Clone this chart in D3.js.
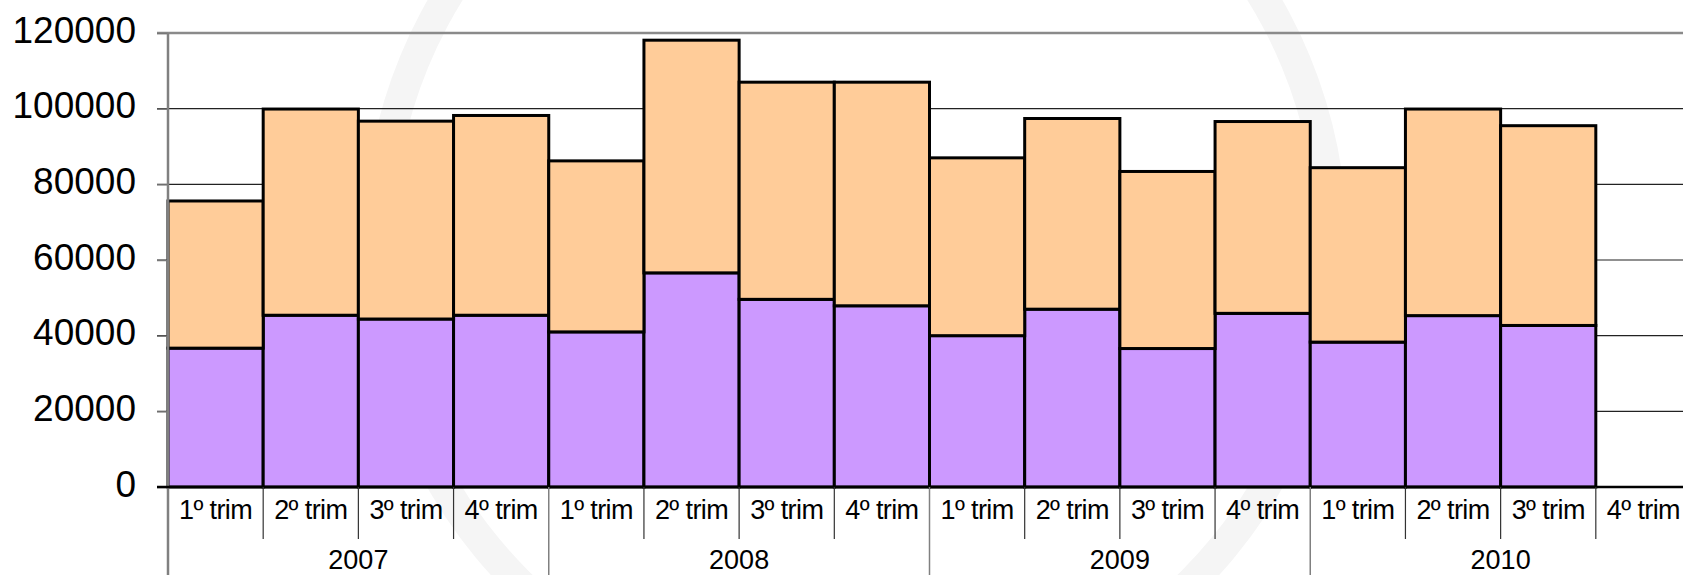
<!DOCTYPE html>
<html>
<meta charset="UTF-8">
<script src="https://d3js.org/d3.v7.min.js"></script>
<style>
  body { margin: 0; background: #fff; }
  text { font-family: "Liberation Sans", Arial, sans-serif; fill: #000; }
</style>
<body>
<div id="chart"></div>
<script>
// data
var years = ["2007", "2008", "2009", "2010"];
var quarters = ["1º trim", "2º trim", "3º trim", "4º trim"];
// lower (purple) series, one value per quarter; 4º trim 2010 has no data
var lowerSeries = [36700, 45400, 44400, 45400, 41000, 56600, 49600, 47900,
                   40000, 47000, 36600, 45900, 38300, 45300, 42700, null];
// upper (orange) series, stacked on top of the lower one
var upperSeries = [38900, 54500, 52300, 52800, 45200, 61500, 57400, 59100,
                   47000, 50400, 46800, 50700, 46100, 54600, 52800, null];
var yTicks = [0, 20000, 40000, 60000, 80000, 100000, 120000];

var width = 1683, height = 575;
var plotLeft = 168, plotRight = 1691, plotTop = 33, plotBottom = 487;

var cats = [];
years.forEach(function(yr) {
  quarters.forEach(function(q) { cats.push({year: yr, q: q, key: yr + " " + q}); });
});
var rows = cats.map(function(c, i) {
  return {key: c.key, lower: lowerSeries[i], upper: upperSeries[i]};
});

var svg = d3.select("#chart").append("svg")
  .attr("width", width)
  .attr("height", height);

// faint watermark behind the chart
svg.append("path")
  .attr("transform", "translate(855,244)")
  .attr("d", d3.arc()({innerRadius: 462, outerRadius: 492, startAngle: 0, endAngle: 2 * Math.PI}))
  .attr("fill", "#f5f5f5");

var x = d3.scaleBand()
  .domain(cats.map(function(c) { return c.key; }))
  .range([plotLeft, plotRight])
  .padding(0);

var y = d3.scaleLinear()
  .domain([0, 120000])
  .range([plotBottom, plotTop]);

// gridlines
svg.append("g").selectAll("line")
  .data(yTicks.filter(function(d) { return d > 0 && d < 120000; }))
  .enter().append("line")
    .attr("x1", plotLeft - 11).attr("x2", plotRight)
    .attr("y1", function(d) { return y(d); })
    .attr("y2", function(d) { return y(d); })
    .attr("stroke", "#222")
    .attr("stroke-width", 1.2);

// top border
svg.append("line")
  .attr("x1", plotLeft - 11).attr("x2", plotRight)
  .attr("y1", y(120000)).attr("y2", y(120000))
  .attr("stroke", "#8a8a8a").attr("stroke-width", 2.5);

// stacked bars
var stack = d3.stack().keys(["lower", "upper"]);
var series = stack(rows.filter(function(r) { return r.lower != null; }));
var colors = {lower: "#CC99FF", upper: "#FFCC99"};

svg.append("g").selectAll("g")
  .data(series)
  .enter().append("g")
    .attr("fill", function(s) { return colors[s.key]; })
  .selectAll("rect")
  .data(function(s) { return s; })
  .enter().append("rect")
    .attr("x", function(d) { return x(d.data.key); })
    .attr("width", x.bandwidth())
    .attr("y", function(d) { return y(d[1]); })
    .attr("height", function(d) { return y(d[0]) - y(d[1]); })
    .attr("stroke", "#000")
    .attr("stroke-width", 3);

// y axis labels
var yAxis = svg.append("g")
  .attr("transform", "translate(" + plotLeft + ",0)")
  .call(d3.axisLeft(y).tickValues(yTicks).tickSize(11).tickPadding(21).tickFormat(d3.format("d")));
yAxis.select(".domain").remove();
yAxis.selectAll("line").attr("stroke", "#777").attr("stroke-width", 1.5);
yAxis.selectAll("text")
  .attr("font-size", 37)
  .attr("dy", "0.25em");

// left axis line
svg.append("line")
  .attr("x1", plotLeft).attr("x2", plotLeft)
  .attr("y1", plotTop).attr("y2", height)
  .attr("stroke", "#808080").attr("stroke-width", 2.5);

// zero line
svg.append("line")
  .attr("x1", plotLeft - 11).attr("x2", plotRight)
  .attr("y1", y(0)).attr("y2", y(0))
  .attr("stroke", "#000").attr("stroke-width", 2.5);

// quarter separators and labels
svg.append("g").selectAll("line")
  .data(cats.filter(function(c) { return c.q != quarters[0]; }))
  .enter().append("line")
    .attr("x1", function(c) { return x(c.key); })
    .attr("x2", function(c) { return x(c.key); })
    .attr("y1", y(0)).attr("y2", 539)
    .attr("stroke", "#333").attr("stroke-width", 1.2);

svg.append("g").selectAll("text")
  .data(cats)
  .enter().append("text")
    .attr("x", function(c) { return x(c.key) + x.bandwidth() / 2; })
    .attr("y", 519)
    .attr("text-anchor", "middle")
    .attr("font-size", 27)
    .attr("letter-spacing", -0.6)
    .text(function(c) { return c.q; });

// year separators and labels
svg.append("g").selectAll("line")
  .data(years.slice(1))
  .enter().append("line")
    .attr("x1", function(yr) { return x(yr + " " + quarters[0]); })
    .attr("x2", function(yr) { return x(yr + " " + quarters[0]); })
    .attr("y1", y(0)).attr("y2", height)
    .attr("stroke", "#808080").attr("stroke-width", 1.5);

svg.append("g").selectAll("text")
  .data(years)
  .enter().append("text")
    .attr("x", function(yr) {
      return (x(yr + " " + quarters[0]) + x(yr + " " + quarters[3]) + x.bandwidth()) / 2;
    })
    .attr("y", 569)
    .attr("text-anchor", "middle")
    .attr("font-size", 27)
    .text(function(yr) { return yr; });
</script>
</body>
</html>
